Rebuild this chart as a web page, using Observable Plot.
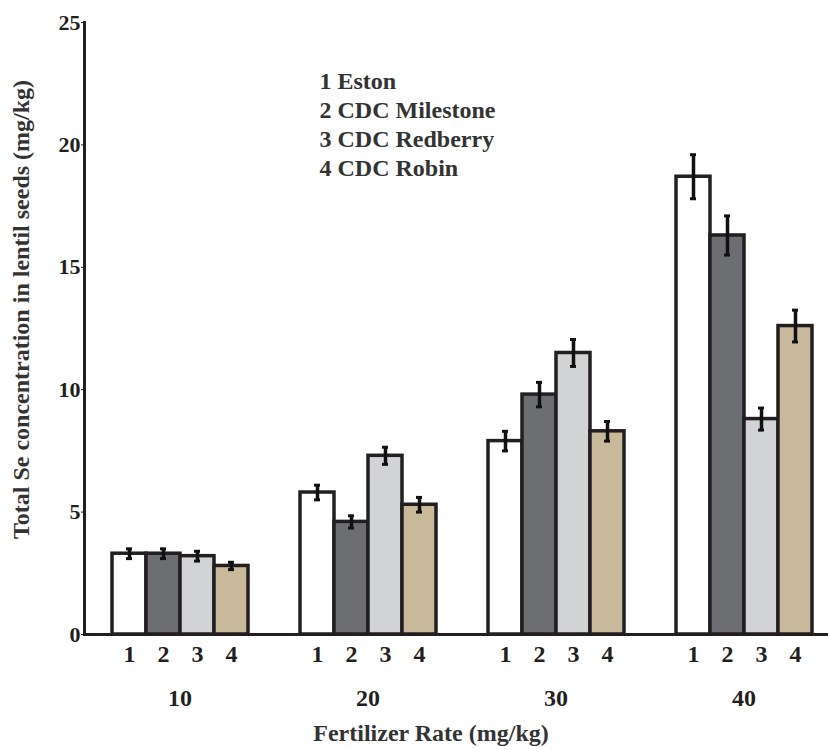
<!DOCTYPE html>
<html>
<head>
<meta charset="utf-8">
<script src="https://cdn.jsdelivr.net/npm/d3@7"></script>
<script src="https://cdn.jsdelivr.net/npm/@observablehq/plot@0.6"></script>
<style>
  html, body { margin: 0; padding: 0; background: #ffffff; }
  #chart svg { display: block; }
</style>
</head>
<body>
<div id="chart"></div>
<script>
// ---- data ----
const rates = ["10", "20", "30", "40"];
const cultivars = ["1", "2", "3", "4"];
const cultivarNames = ["Eston", "CDC Milestone", "CDC Redberry", "CDC Robin"];
const seRate10 = [3.3, 3.3, 3.2, 2.8];
const seRate20 = [5.8, 4.6, 7.3, 5.3];
const seRate30 = [7.9, 9.8, 11.5, 8.3];
const seRate40 = [18.7, 16.3, 8.8, 12.6];
const errRate10 = [0.2, 0.2, 0.2, 0.15];
const errRate20 = [0.3, 0.25, 0.35, 0.3];
const errRate30 = [0.4, 0.5, 0.55, 0.4];
const errRate40 = [0.9, 0.8, 0.45, 0.65];
const yTicks = [0, 5, 10, 15, 20, 25];
const fills = ["#ffffff", "#6d6e71", "#d1d3d4", "#c8b99b"];
const yTitle = "Total Se concentration in lentil seeds (mg/kg)";
const xTitle = "Fertilizer Rate (mg/kg)";

const seValues = [seRate10, seRate20, seRate30, seRate40];
const errValues = [errRate10, errRate20, errRate30, errRate40];
const data = rates.flatMap((rate, i) =>
  cultivars.map((c, j) => ({ rate, cultivar: c, value: seValues[i][j], err: errValues[i][j] }))
);
const legendText = cultivars.map((c, i) => `${c} ${cultivarNames[i]}`).join("\n");

const ink = "#231f20";
const font = "'Liberation Serif', 'Times New Roman', serif";

// facets span the bar groups; the axis lines reach out past them
const W = 828, H = 749, ML = 110, MR = 14;
const axisGapLeft = 27;   // axis line sits this far left of the first group
const axisRunRight = 14;  // x axis line runs on to the page edge

const chart = Plot.plot({
  width: W,
  height: H,
  marginLeft: ML,
  marginRight: MR,
  marginTop: 22,
  marginBottom: 115,
  style: { fontFamily: font, fontWeight: "bold", color: ink, background: "#ffffff", overflow: "visible" },
  fx: { domain: rates, paddingInner: 0.269, paddingOuter: 0, label: null },
  x: { domain: cultivars, padding: 0, label: null },
  y: { domain: [0, 25], label: null },
  color: { type: "ordinal", domain: cultivars, range: fills },
  marks: [
    Plot.barY(data, { fx: "rate", x: "cultivar", y: "value", fill: "cultivar", stroke: ink, strokeWidth: 3.5 }),
    Plot.ruleX(data, { fx: "rate", x: "cultivar", y1: d => d.value - d.err, y2: d => d.value + d.err, stroke: "#111", strokeWidth: 3.5 }),
    Plot.tickY(data, { fx: "rate", x: "cultivar", y: d => d.value - d.err, stroke: "#111", strokeWidth: 3, insetLeft: 14, insetRight: 14 }),
    Plot.tickY(data, { fx: "rate", x: "cultivar", y: d => d.value + d.err, stroke: "#111", strokeWidth: 3, insetLeft: 14, insetRight: 14 }),
    Plot.frame({ anchor: "left", facet: "super", stroke: ink, strokeWidth: 3, insetLeft: -axisGapLeft }),
    Plot.frame({ anchor: "bottom", facet: "super", stroke: ink, strokeWidth: 3, insetLeft: -axisGapLeft, insetRight: -axisRunRight }),
    Plot.axisY({ ticks: yTicks, tickSize: 3, tickPadding: 1, fontSize: 22, fontWeight: "bold", label: null, dx: -axisGapLeft, tickFormat: d => String(d) }),
    Plot.axisX({ anchor: "bottom", tickSize: 0, tickPadding: 10, fontSize: 24, fontWeight: "bold", label: null }),
    Plot.axisFx({ anchor: "bottom", tickSize: 0, tickPadding: 54, fontSize: 24, fontWeight: "bold", label: null }),
    Plot.text([yTitle], { facet: "super", frameAnchor: "left", textAnchor: "middle", rotate: -90, dx: -90, dy: -19, fontSize: 24, fontWeight: "bold", fill: "#333" }),
    Plot.text([xTitle], { facet: "super", frameAnchor: "bottom", textAnchor: "middle", dx: -31, dy: 106, fontSize: 24, fontWeight: "bold", fill: "#333" }),
    Plot.text([legendText], { facet: "super", frameAnchor: "top-left", textAnchor: "start", lineAnchor: "top", dx: 208, dy: 46, lineHeight: 1.21, fontSize: 24, fontWeight: "bold", fill: "#333" })
  ]
});
document.getElementById("chart").appendChild(chart);
</script>
</body>
</html>
